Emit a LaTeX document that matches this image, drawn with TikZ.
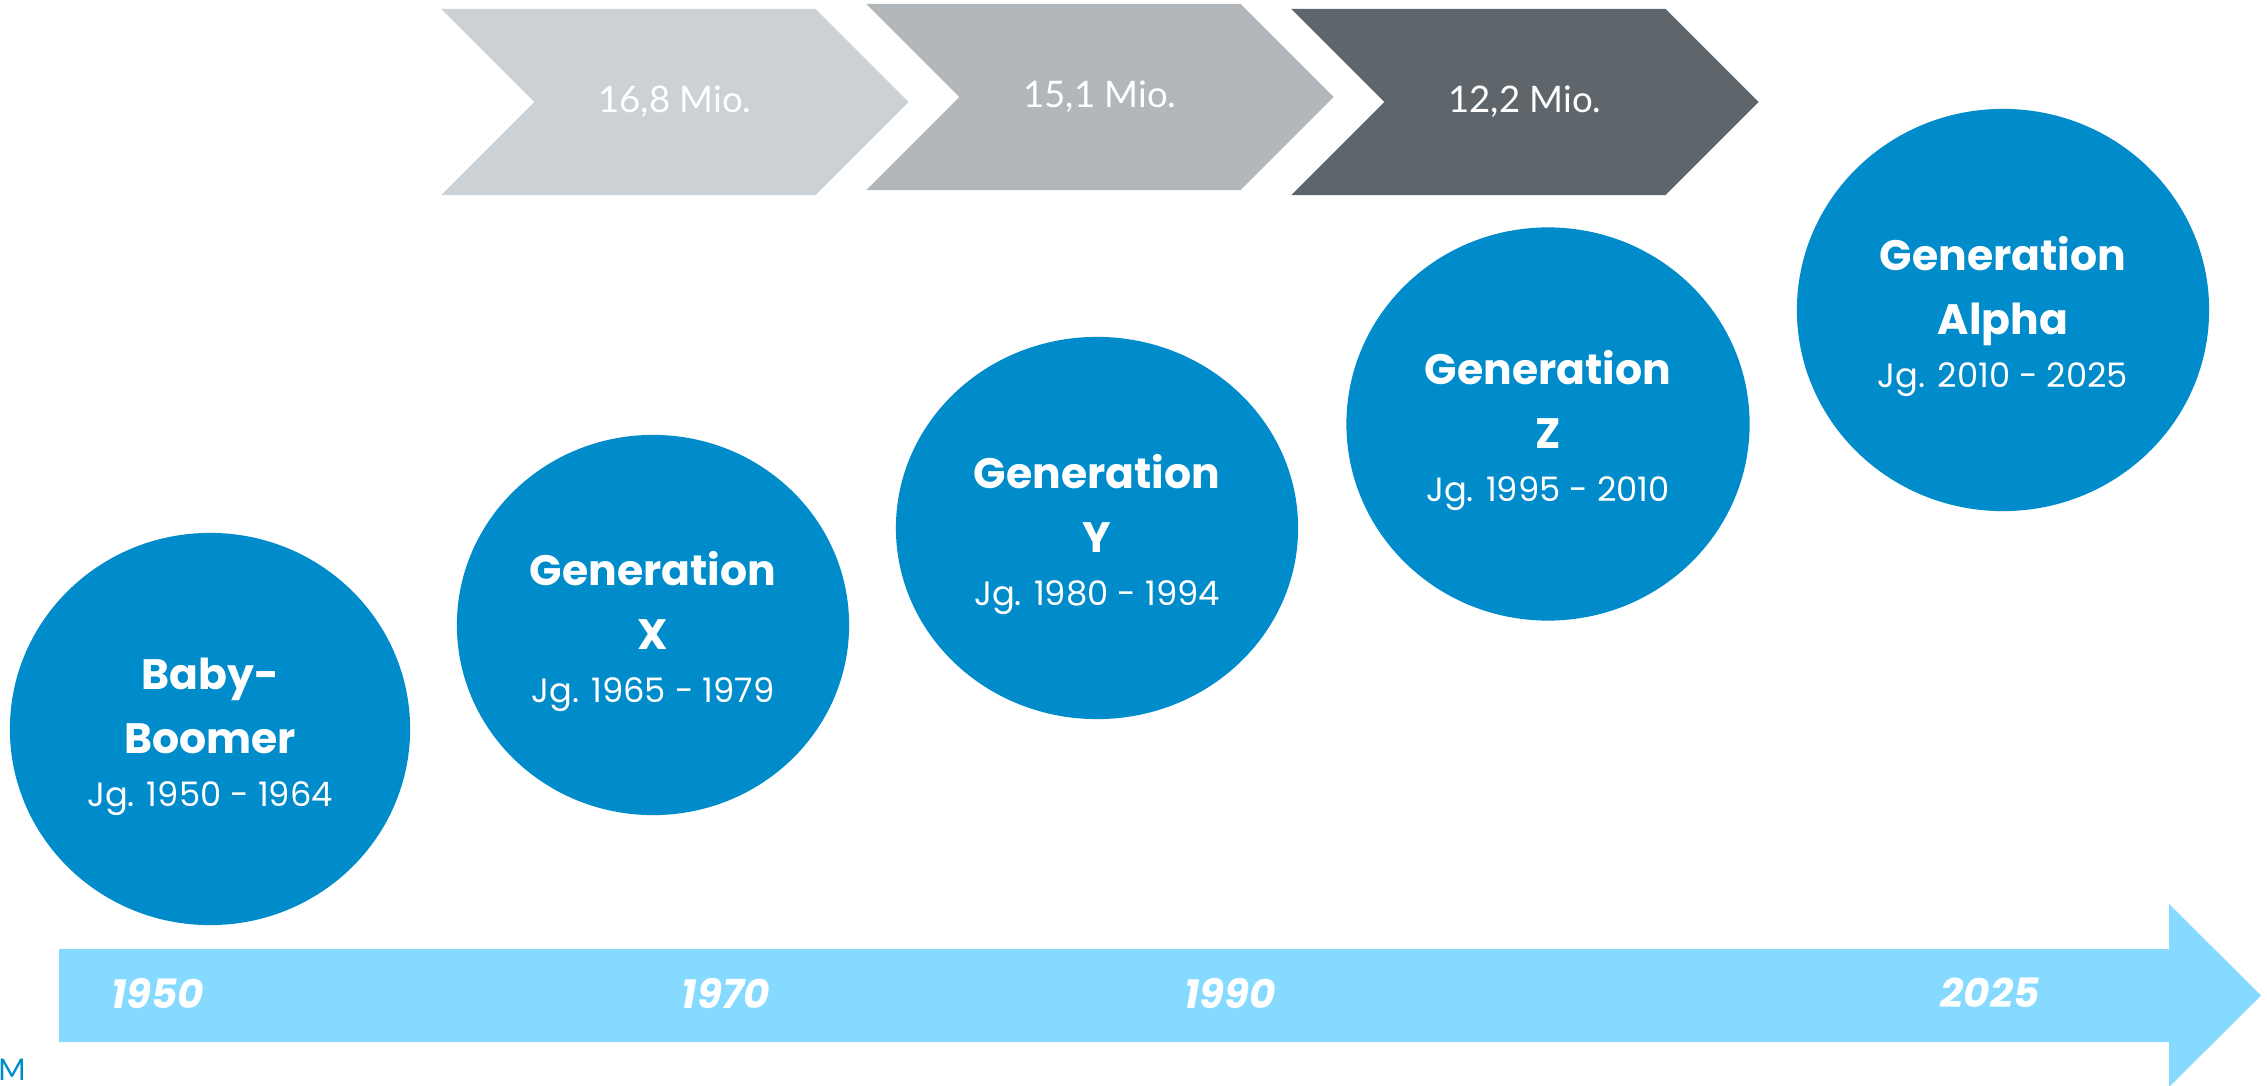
\documentclass[tikz,border=0pt]{standalone}
\usepackage{fontspec}
\setmainfont{Poppins}
\newfontfamily\chevfont{Lato}
\usetikzlibrary{shapes.geometric,shapes.symbols}

\definecolor{genblue}{RGB}{0,139,202}
\definecolor{lineblue}{RGB}{135,218,255}
\definecolor{chevA}{RGB}{203,209,212}
\definecolor{chevB}{RGB}{178,183,187}
\definecolor{chevC}{RGB}{94,102,108}

\tikzset{
  genball/.style={ellipse, fill=genblue, text=white, inner sep=0pt, align=center,
    font=\bfseries\fontsize{12.1}{18.2}\selectfont},
  chev/.style={signal, signal from=west, signal to=east, signal pointer angle=90,
    text=white, inner sep=0pt, minimum width=4.67cm, minimum height=1.86cm,
    font=\chevfont\fontsize{10.4}{13}\selectfont},
  yearlbl/.style={text=white, font=\bfseries\itshape\fontsize{11.5}{14}\selectfont},
}
% extra room above the first line, pushes the text a bit down in the ball
\newcommand{\genstrut}{\rule{0pt}{13.2pt}}
\newcommand{\jg}{\mdseries\fontsize{9.6}{14}\selectfont Jg.}

\begin{document}
\begin{tikzpicture}[x=0.01cm,y=-0.01cm]
\useasboundingbox (0,0) rectangle (2267,1085);

% time line
\fill[lineblue] (59,949) -- (2169,949) -- (2169,904) -- (2261,995.5)
  -- (2169,1087) -- (2169,1042) -- (59,1042) -- cycle;
\foreach \yr/\xx in {1950/158,1970/726,1990/1230,2025/1990}
  \node[yearlbl] (y\yr) at (\xx,993) {\yr};

% head counts
\node[chev, fill=chevA] (mio1) at (675,102) {16,8 Mio.};
\node[chev, fill=chevB] (mio2) at (1100,97) {15,1 Mio.};
\node[chev, fill=chevC] (mio3) at (1525,102) {12,2 Mio.};

% generations
\node[genball, minimum width=4cm, minimum height=3.92cm] (boomer) at (210,729) {\genstrut Baby-\\Boomer\\[-3.1pt]\jg{} 1950 - 1964};
\node[genball, minimum width=3.92cm, minimum height=3.8cm] (genx) at (653,625) {\genstrut Generation\\X\\[-3.1pt]\jg{} 1965 - 1979};
\node[genball, minimum width=4.02cm, minimum height=3.82cm] (geny) at (1097,528) {\genstrut Generation\\Y\\[-3.1pt]\jg{} 1980 - 1994};
\node[genball, minimum width=4.03cm, minimum height=3.93cm] (genz) at (1548,424) {\genstrut Generation\\Z\\[-3.1pt]\jg{} 1995 - 2010};
\node[genball, minimum width=4.12cm, minimum height=4.02cm] (alpha) at (2003,310) {\genstrut Generation\\Alpha\\[-3.1pt]\jg{} 2010 - 2025};

\node[text=genblue, font=\chevfont\fontsize{8.5}{9}\selectfont] (logo) at (12,1070) {M};
\end{tikzpicture}
\end{document}
